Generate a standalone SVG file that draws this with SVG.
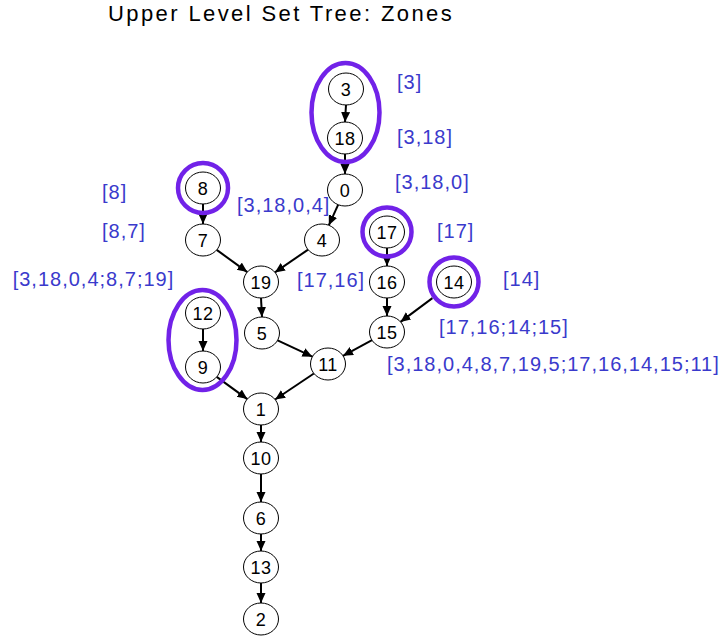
<svg xmlns="http://www.w3.org/2000/svg" width="725" height="639" viewBox="0 0 725 639">
<defs>
<marker id="ah" markerUnits="userSpaceOnUse" markerWidth="11" markerHeight="10" refX="10" refY="4.5" orient="auto">
<path d="M0,0 L10,4.5 L0,9 z" fill="#000"/>
</marker>
<style>
.e{stroke:#000;stroke-width:2;fill:none;marker-end:url(#ah)}
.n{fill:#fff;stroke:#000;stroke-width:1}
.t{font-family:"Liberation Sans",Arial,sans-serif;font-size:18px;fill:#000;text-anchor:middle;letter-spacing:0.5px}
.r{fill:none;stroke:#7122e8;stroke-width:4.5}
.b{font-family:"Liberation Sans",Arial,sans-serif;font-size:20px;fill:#3a3acc;letter-spacing:1px}
.title{font-family:"Liberation Sans",Arial,sans-serif;font-size:22px;fill:#000;letter-spacing:2.4px}
</style>
</defs>
<rect width="725" height="639" fill="#fff"/>
<text class="title" x="108" y="21">Upper Level Set Tree: Zones</text>
<g id="connectors">
<line class="e" x1="346" y1="105" x2="345" y2="122"/>
<line class="e" x1="345" y1="154" x2="345" y2="174"/>
<line class="e" x1="338.2" y1="204.7" x2="328.8" y2="225.3"/>
<line class="e" x1="203" y1="204" x2="203" y2="224"/>
<line class="e" x1="216.7" y1="249.9" x2="247.3" y2="272.1"/>
<line class="e" x1="308.1" y1="249.6" x2="274.9" y2="272.4"/>
<line class="e" x1="387" y1="248" x2="387" y2="266"/>
<line class="e" x1="387" y1="298" x2="387" y2="316"/>
<line class="e" x1="432.4" y1="298.1" x2="400.5" y2="321.9"/>
<line class="e" x1="261" y1="298" x2="262" y2="317"/>
<line class="e" x1="277.6" y1="340.3" x2="312.4" y2="356.7"/>
<line class="e" x1="372" y1="340.2" x2="343" y2="355.8"/>
<line class="e" x1="203" y1="329" x2="203" y2="351"/>
<line class="e" x1="216.7" y1="376.9" x2="247.3" y2="399.1"/>
<line class="e" x1="313.9" y1="373.5" x2="275.1" y2="399.5"/>
<line class="e" x1="261" y1="425" x2="261" y2="442"/>
<line class="e" x1="261" y1="474" x2="261" y2="502"/>
<line class="e" x1="261" y1="534" x2="261" y2="551"/>
<line class="e" x1="261" y1="583" x2="261" y2="603"/>
</g>
<g id="n3"><ellipse class="n" cx="346" cy="89" rx="17.5" ry="16"/><text class="t" x="346" y="95.5">3</text></g>
<g id="n18"><ellipse class="n" cx="345" cy="138" rx="17.5" ry="16"/><text class="t" x="345" y="144.5">18</text></g>
<g id="n0"><ellipse class="n" cx="345" cy="190" rx="17.5" ry="16"/><text class="t" x="345" y="196.5">0</text></g>
<g id="n8"><ellipse class="n" cx="203" cy="188" rx="17.5" ry="16"/><text class="t" x="203" y="194.5">8</text></g>
<g id="n7"><ellipse class="n" cx="203" cy="240" rx="17.5" ry="16"/><text class="t" x="203" y="246.5">7</text></g>
<g id="n4"><ellipse class="n" cx="322" cy="240" rx="17.5" ry="16"/><text class="t" x="322" y="246.5">4</text></g>
<g id="n17"><ellipse class="n" cx="387" cy="232" rx="17.5" ry="16"/><text class="t" x="387" y="238.5">17</text></g>
<g id="n19"><ellipse class="n" cx="261" cy="282" rx="17.5" ry="16"/><text class="t" x="261" y="288.5">19</text></g>
<g id="n16"><ellipse class="n" cx="387" cy="282" rx="17.5" ry="16"/><text class="t" x="387" y="288.5">16</text></g>
<g id="n14"><ellipse class="n" cx="454" cy="282" rx="17.5" ry="16"/><text class="t" x="454" y="288.5">14</text></g>
<g id="n12"><ellipse class="n" cx="203" cy="313" rx="17.5" ry="16"/><text class="t" x="203" y="319.5">12</text></g>
<g id="n5"><ellipse class="n" cx="262" cy="333" rx="17.5" ry="16"/><text class="t" x="262" y="339.5">5</text></g>
<g id="n15"><ellipse class="n" cx="387" cy="332" rx="17.5" ry="16"/><text class="t" x="387" y="338.5">15</text></g>
<g id="n9"><ellipse class="n" cx="203" cy="367" rx="17.5" ry="16"/><text class="t" x="203" y="373.5">9</text></g>
<g id="n11"><ellipse class="n" cx="328" cy="364" rx="17.5" ry="16"/><text class="t" x="328" y="370.5">11</text></g>
<g id="n1"><ellipse class="n" cx="261" cy="409" rx="17.5" ry="16"/><text class="t" x="261" y="415.5">1</text></g>
<g id="n10"><ellipse class="n" cx="261" cy="458" rx="17.5" ry="16"/><text class="t" x="261" y="464.5">10</text></g>
<g id="n6"><ellipse class="n" cx="261" cy="518" rx="17.5" ry="16"/><text class="t" x="261" y="524.5">6</text></g>
<g id="n13"><ellipse class="n" cx="261" cy="567" rx="17.5" ry="16"/><text class="t" x="261" y="573.5">13</text></g>
<g id="n2"><ellipse class="n" cx="261" cy="619" rx="17.5" ry="16"/><text class="t" x="261" y="625.5">2</text></g>
<g id="zones">
<ellipse class="r" cx="345.5" cy="112.5" rx="34" ry="49.5"/>
<ellipse class="r" cx="202.5" cy="340" rx="34" ry="50"/>
<circle class="r" cx="203" cy="188" r="25"/>
<circle class="r" cx="387" cy="232" r="24.5"/>
<circle class="r" cx="454" cy="282" r="24.5"/>
</g>
<g id="labels">
<text class="b" x="397" y="89">[3]</text>
<text class="b" x="397" y="144">[3,18]</text>
<text class="b" x="395" y="189">[3,18,0]</text>
<text class="b" x="237" y="212" letter-spacing="0.5">[3,18,0,4]</text>
<text class="b" x="437" y="238">[17]</text>
<text class="b" x="102" y="199">[8]</text>
<text class="b" x="102" y="238">[8,7]</text>
<text class="b" x="12.7" y="286">[3,18,0,4;8,7;19]</text>
<text class="b" x="297" y="287">[17,16]</text>
<text class="b" x="503" y="286">[14]</text>
<text class="b" x="439" y="334">[17,16;14;15]</text>
<text class="b" x="387" y="371">[3,18,0,4,8,7,19,5;17,16,14,15;11]</text>
</g>
</svg>
